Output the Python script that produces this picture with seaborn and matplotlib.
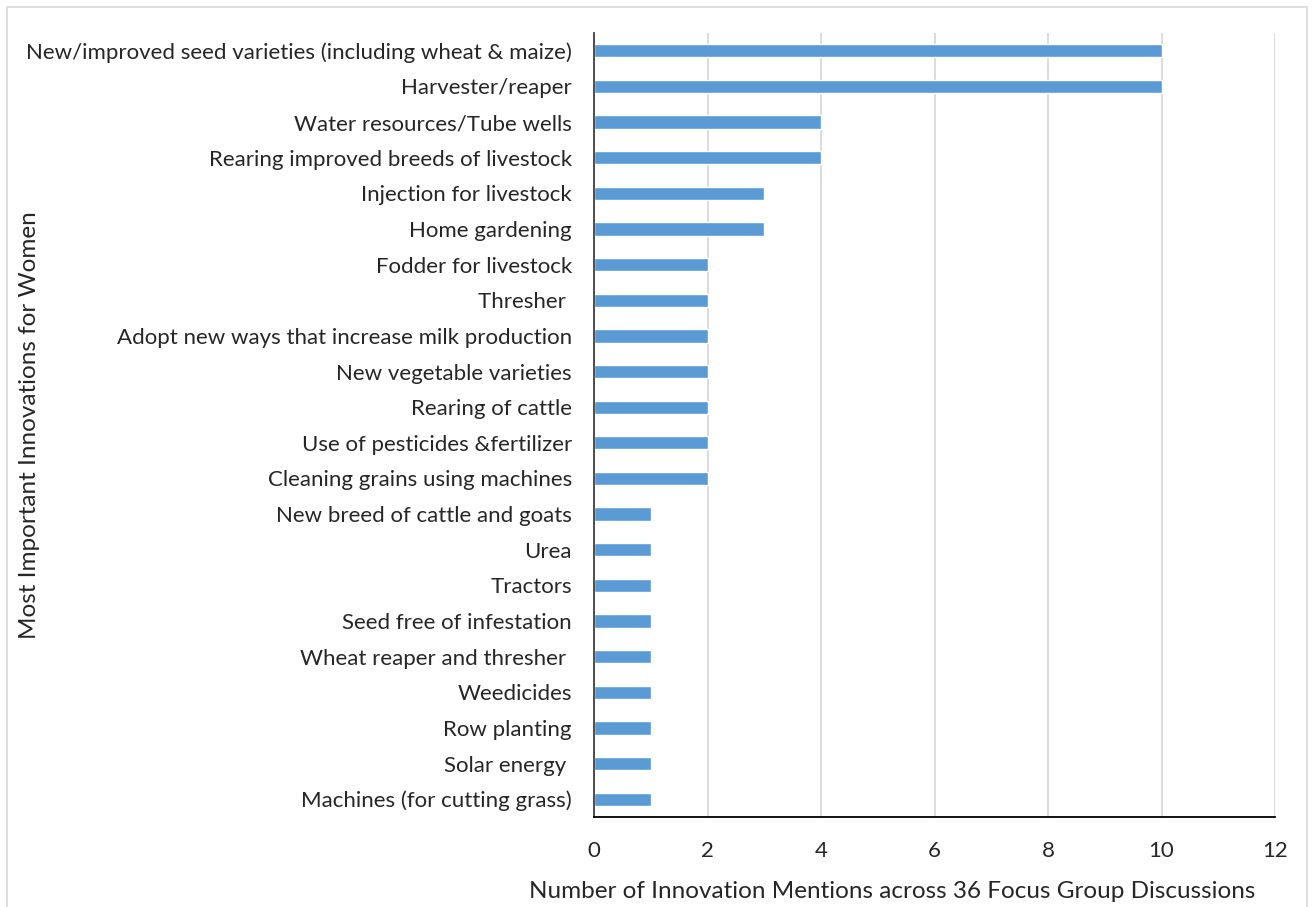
import matplotlib
matplotlib.use("Agg")
import matplotlib.pyplot as plt
import matplotlib.patches as mpatches
import seaborn as sns
import pandas as pd

innovations = [
    "New/improved seed varieties (including wheat & maize)",
    "Harvester/reaper",
    "Water resources/Tube wells",
    "Rearing improved breeds of livestock",
    "Injection for livestock",
    "Home gardening",
    "Fodder for livestock",
    "Thresher ",
    "Adopt new ways that increase milk production",
    "New vegetable varieties",
    "Rearing of cattle",
    "Use of pesticides &fertilizer",
    "Cleaning grains using machines",
    "New breed of cattle and goats",
    "Urea",
    "Tractors",
    "Seed free of infestation",
    "Wheat reaper and thresher ",
    "Weedicides",
    "Row planting",
    "Solar energy ",
    "Machines (for cutting grass)",
]
mentions = [10, 10, 4, 4, 3, 3, 2, 2, 2, 2, 2, 2, 2, 1, 1, 1, 1, 1, 1, 1, 1, 1]
x_ticks = [0, 2, 4, 6, 8, 10, 12]

df = pd.DataFrame({"Innovation": innovations, "Mentions": mentions})

sns.set_theme(style="white")
plt.rcParams["font.family"] = ["Lato", "DejaVu Sans"]

fig = plt.figure(figsize=(13.13, 9.07), dpi=100)
ax = fig.add_axes([594 / 1313, 1 - 817 / 907, (1275 - 594) / 1313, (817 - 33) / 907])

sns.barplot(data=df, x="Mentions", y="Innovation", orient="h", color="#5B9BD5",
            width=0.37, ax=ax, saturation=1)

ax.set_xlim(0, 12)
ax.set_xticks(x_ticks)
ax.set_xticklabels([str(t) for t in x_ticks], fontsize=16)
ax.grid(axis="x", color="#D9D9D9", linewidth=1.3)
ax.grid(axis="y", visible=False)
ax.set_axisbelow(True)
for s in ["top", "right"]:
    ax.spines[s].set_visible(False)
ax.spines["left"].set_color("#404040")
ax.spines["left"].set_linewidth(1.3)
ax.spines["bottom"].set_color("#000000")
ax.spines["bottom"].set_linewidth(1.3)
ax.tick_params(axis="y", labelsize=16, length=0, pad=16)
ax.tick_params(axis="x", length=0, pad=17)
ax.set_xlabel("Number of Innovation Mentions across 36 Focus Group Discussions",
              fontsize=17.5, labelpad=15)
ax.xaxis.label.set_x((892 - 594) / (1275 - 594))
ax.set_ylabel("")
fig.text(30 / 1313, 1 - 425 / 907, "Most Important Innovations for Women",
         rotation=90, ha="center", va="center", fontsize=17.5)

fig.patches.append(mpatches.Rectangle((7 / 1313, -0.01), 1300 / 1313, 1 - 7 / 907 + 0.01,
                                      transform=fig.transFigure, fill=False,
                                      edgecolor="#D9D9D9", linewidth=1.2))

fig.savefig("out.png", dpi=100)
